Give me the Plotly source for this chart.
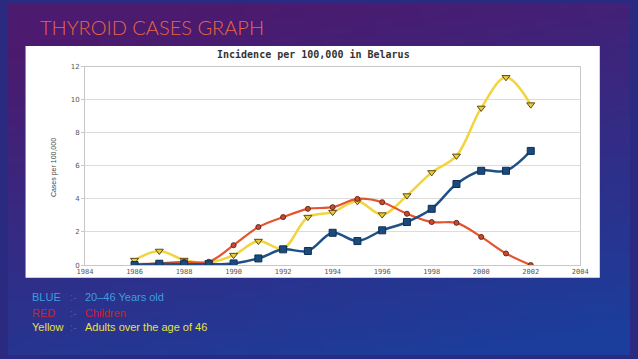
import struct, zlib, base64
import plotly.graph_objects as go

# ---------------- data ----------------
years = list(range(1986, 2003))
blue_20_46 = [0.0, 0.08, 0.05, 0.05, 0.1, 0.4, 0.95, 0.85, 1.95, 1.45, 2.1, 2.6, 3.4, 4.9, 5.7, 5.7, 6.9]
red_children = [0.05, 0.1, 0.2, 0.2, 1.2, 2.3, 2.9, 3.4, 3.5, 4.0, 3.8, 3.1, 2.6, 2.55, 1.7, 0.7, 0.0]
yellow_adults = [0.3, 0.85, 0.3, 0.15, 0.6, 1.45, 1.0, 2.9, 3.2, 3.85, 3.05, 4.2, 5.6, 6.6, 9.5, 11.35, 9.7]
x_ticks = list(range(1984, 2005, 2))
y_ticks = list(range(0, 13, 2))

W, H = 638, 359


# ---------------- background gradient image (decoration) ----------------
def gradient_png(w=64, h=36):
    c0 = (76, 26, 110)   # purple
    c1 = (27, 62, 156)   # blue
    raw = b""
    for j in range(h):
        raw += b"\x00"
        for i in range(w):
            t = 0.85 * (j / (h - 1)) + 0.3 * (i / (w - 1)) - 0.1
            t = max(0.0, min(1.0, t))
            px = bytes(int(round(c0[k] + (c1[k] - c0[k]) * t)) for k in range(3))
            raw += px

    def chunk(tag, data):
        c = struct.pack(">I", len(data)) + tag + data
        return c + struct.pack(">I", zlib.crc32(tag + data) & 0xffffffff)

    png = b"\x89PNG\r\n\x1a\n"
    png += chunk(b"IHDR", struct.pack(">IIBBBBB", w, h, 8, 2, 0, 0, 0))
    png += chunk(b"IDAT", zlib.compress(raw, 9))
    png += chunk(b"IEND", b"")
    return "data:image/png;base64," + base64.b64encode(png).decode()


def px_x(p):
    return p / W


def px_y(p):
    return 1 - p / H


fig = go.Figure()

fig.add_trace(go.Scatter(
    x=years, y=yellow_adults, mode="lines+markers", name="Adults over 46",
    line=dict(color="#f2d43c", width=2.5, shape="spline", smoothing=1),
    marker=dict(symbol="triangle-down", size=7, color="#e8cc3a",
                line=dict(color="#5a4a14", width=1)),
))
fig.add_trace(go.Scatter(
    x=years, y=red_children, mode="lines+markers", name="Children",
    line=dict(color="#e4542e", width=2.2, shape="spline", smoothing=1),
    marker=dict(symbol="circle", size=5, color="#c84a30",
                line=dict(color="#6a2a1a", width=1)),
))
fig.add_trace(go.Scatter(
    x=years, y=blue_20_46, mode="lines+markers", name="20-46 Years old",
    line=dict(color="#1f5185", width=2.5, shape="spline", smoothing=1),
    marker=dict(symbol="square", size=7, color="#1b4a7c",
                line=dict(color="#0f2f55", width=1)),
))

fig.update_layout(
    width=W, height=H,
    margin=dict(l=0, r=0, t=0, b=0),
    paper_bgcolor="#2a2a80",
    plot_bgcolor="rgba(0,0,0,0)",
    showlegend=False,
    images=[dict(source=gradient_png(), xref="paper", yref="paper", x=0, y=1,
                 sizex=1, sizey=1, sizing="stretch", layer="below")],
    shapes=[dict(type="rect", xref="paper", yref="paper",
                 x0=px_x(18), x1=px_x(607), y0=px_y(280), y1=px_y(43),
                 fillcolor="white", line=dict(width=0), layer="below")],
    xaxis=dict(
        domain=[px_x(79), px_x(587)], range=[1984, 2004],
        tickvals=x_ticks, ticktext=[str(t) for t in x_ticks],
        showgrid=False, zeroline=False,
        showline=True, linecolor="#c8c8c8", linewidth=1, mirror=True,
        ticks="", tickfont=dict(family="DejaVu Sans Mono", size=7, color="#555555"),
    ),
    yaxis=dict(
        domain=[px_y(267), px_y(64)], range=[0, 12],
        tickvals=y_ticks, ticktext=[str(t) for t in y_ticks],
        showgrid=True, gridcolor="#dcdcdc", gridwidth=1, zeroline=False,
        showline=True, linecolor="#c8c8c8", linewidth=1, mirror=True,
        ticks="outside", ticklen=3, tickcolor="#c8c8c8",
        tickfont=dict(family="DejaVu Sans", size=7, color="#555555"),
    ),
)

annotations = [
    dict(text="THYROID CASES GRAPH", x=px_x(31), y=px_y(24), xanchor="left", yanchor="middle",
         font=dict(family="Lato", size=20, weight=300, color="#e8673f")),
    dict(text="<b>Incidence per 100,000 in Belarus</b>", x=px_x(313), y=px_y(52),
         xanchor="center", yanchor="middle",
         font=dict(family="DejaVu Sans Mono", size=10, color="#333333")),
    dict(text="Cases per 100,000", x=px_x(47), y=px_y(167), xanchor="center", yanchor="middle",
         textangle=-90, font=dict(family="Liberation Sans Narrow, Liberation Sans", size=7, color="#444444")),
]

legend_rows = [
    ("BLUE", "20\u201346 Years old", "#3d9de0", 300),
    ("RED", "Children", "#d0202c", 316),
    ("Yellow", "Adults over the age of 46", "#e6e23e", 330),
]
for lab, txt, col, yy in legend_rows:
    annotations.append(dict(text=lab, x=px_x(23), y=px_y(yy), xanchor="left", yanchor="middle",
                            font=dict(family="Liberation Sans", size=11, color=col)))
    annotations.append(dict(text=":-", x=px_x(62), y=px_y(yy), xanchor="left", yanchor="middle",
                            font=dict(family="Liberation Sans", size=11, color="#55598f")))
    annotations.append(dict(text=txt, x=px_x(77), y=px_y(yy), xanchor="left", yanchor="middle",
                            font=dict(family="Liberation Sans", size=11, color=col)))

for a in annotations:
    a.update(xref="paper", yref="paper", showarrow=False)
fig.update_layout(annotations=annotations)

fig.write_html(
    "out.html",
    config={"displayModeBar": False},
    post_script=(
        "document.documentElement.style.margin='0';"
        "document.documentElement.style.overflow='hidden';"
        "document.body.style.margin='0';"
        "document.body.style.overflow='hidden';"
        "document.body.style.background='#2a2a80';"
    ),
)
